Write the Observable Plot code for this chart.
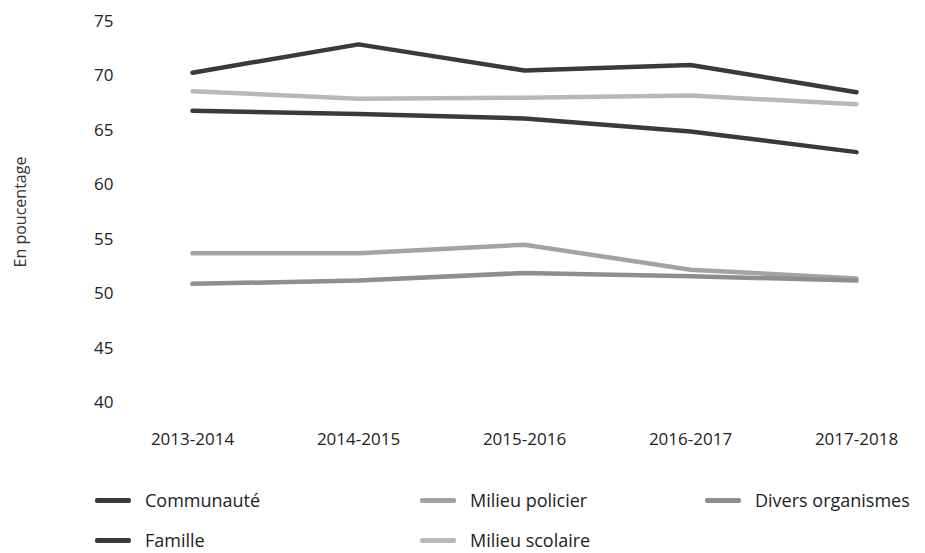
<!DOCTYPE html>
<html>
<head>
<meta charset="utf-8">
<script src="https://cdn.jsdelivr.net/npm/d3@7"></script>
<script src="https://cdn.jsdelivr.net/npm/@observablehq/plot@0.6"></script>
<style>
  body { margin: 0; background: #fff; font-family: "Open Sans", sans-serif; }
  #chart { position: relative; width: 925px; }
  .legend { position: relative; width: 925px; height: 91px; }
  .item { position: absolute; display: flex; align-items: center; font-size: 18px; color: #222; }
  .swatch { width: 36px; height: 5px; margin-right: 14px; border-radius: 2px; }
</style>
</head>
<body>
<div id="chart"></div>
<div class="legend" id="legend"></div>
<script>
const years = ["2013-2014", "2014-2015", "2015-2016", "2016-2017", "2017-2018"];
const yTicks = [40, 45, 50, 55, 60, 65, 70, 75];

const communaute = [70.3, 72.9, 70.5, 71.0, 68.5];
const milieuScolaire = [68.6, 67.9, 68.0, 68.2, 67.4];
const famille = [66.8, 66.5, 66.1, 64.9, 63.0];
const milieuPolicier = [53.7, 53.7, 54.5, 52.2, 51.4];
const diversOrganismes = [50.9, 51.2, 51.9, 51.6, 51.2];

const seriesNames = ["Communauté", "Famille", "Milieu policier", "Milieu scolaire", "Divers organismes"];
const seriesValues = [communaute, famille, milieuPolicier, milieuScolaire, diversOrganismes];
const seriesColors = ["#3a3a3a", "#3a3a3a", "#a3a3a3", "#b8b8b8", "#8e8e8e"];

const rows = seriesNames.flatMap((name, i) =>
  years.map((year, j) => ({series: name, year, value: seriesValues[i][j]}))
);

const plot = Plot.plot({
  width: 925,
  height: 462,
  marginTop: 21,
  marginBottom: 60,
  marginLeft: 120,
  marginRight: 40,
  insetLeft: 71,
  insetRight: 28,
  style: {fontFamily: "Open Sans, sans-serif", fontSize: "17px", color: "#222"},
  x: {type: "point", domain: years, padding: 0},
  y: {domain: [40, 75]},
  color: {domain: seriesNames, range: seriesColors},
  marks: [
    Plot.axisX({tickSize: 0, tickPadding: 30, label: null, fontSize: 17}),
    Plot.axisY({ticks: yTicks, tickSize: 0, tickPadding: 7, label: null, fontSize: 17}),
    Plot.text(["En poucentage"], {
      frameAnchor: "left", textAnchor: "middle", dx: -100, rotate: -90, fontSize: 16, fill: "#333"
    }),
    Plot.line(rows, {x: "year", y: "value", z: "series", stroke: "series", strokeWidth: 4.5})
  ]
});
document.getElementById("chart").appendChild(plot);

// Legend: three columns, two rows
const legendPos = [
  {left: 95, top: 26}, {left: 95, top: 66},
  {left: 420, top: 26}, {left: 420, top: 66},
  {left: 705, top: 26}
];
const legend = document.getElementById("legend");
seriesNames.forEach((name, i) => {
  const item = document.createElement("div");
  item.className = "item";
  item.style.left = legendPos[i].left + "px";
  item.style.top = legendPos[i].top + "px";
  const sw = document.createElement("span");
  sw.className = "swatch";
  sw.style.background = seriesColors[i];
  const label = document.createElement("span");
  label.textContent = name;
  item.appendChild(sw);
  item.appendChild(label);
  legend.appendChild(item);
});
</script>
</body>
</html>
